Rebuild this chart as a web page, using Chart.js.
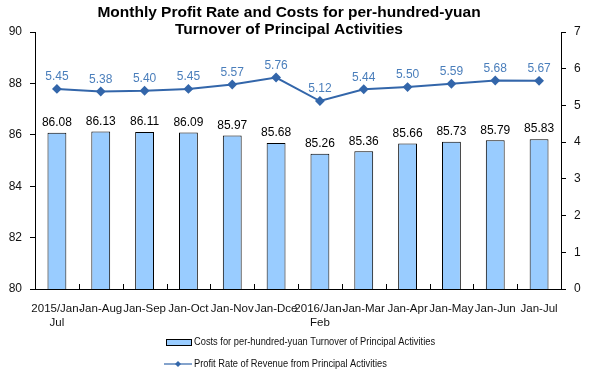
<!DOCTYPE html>
<html>
<head>
<meta charset="utf-8">
<script src="https://cdn.jsdelivr.net/npm/chart.js@4/dist/chart.umd.min.js"></script>
<style>
  html, body { margin: 0; padding: 0; background: #fff; }
  #wrap { width: 589px; height: 379px; position: relative; }
</style>
</head>
<body>
<div id="wrap"><canvas id="chart"></canvas></div>
<script>
// categories (x tick labels, some wrap onto two lines)
const periods = [
  ['2015/Jan-', 'Jul'], 'Jan-Aug', 'Jan-Sep', 'Jan-Oct', 'Jan-Nov', 'Jan-Dce',
  ['2016/Jan-', 'Feb'], 'Jan-Mar', 'Jan-Apr', 'Jan-May', 'Jan-Jun', 'Jan-Jul'
];

// costs per hundred yuan turnover (left axis)
const costs = [86.08, 86.13, 86.11, 86.09, 85.97, 85.68, 85.26, 85.36, 85.66, 85.73, 85.79, 85.83];

// profit rate of revenue (right axis)
const profitRate = [5.45, 5.38, 5.40, 5.45, 5.57, 5.76, 5.12, 5.44, 5.50, 5.59, 5.68, 5.67];

const TITLE_LINES = ['Monthly Profit Rate and Costs for per-hundred-yuan', 'Turnover of Principal Activities'];

const COLORS = {
  bar: '#99ccff',
  barBorder: '#000000',
  line: '#3366aa',
  lineLabel: '#4a7ebb',
  text: '#000000'
};

const FAMILY = '"Liberation Sans", Arial, sans-serif';

// draws title, value labels, inward x ticks and the two-row legend
const decorations = {
  id: 'decorations',
  afterDatasetsDraw(chart) {
    const ctx = chart.ctx;
    const barMeta = chart.getDatasetMeta(1);
    const lineMeta = chart.getDatasetMeta(0);
    ctx.save();

    // title
    ctx.fillStyle = COLORS.text;
    ctx.font = 'bold 15.5px ' + FAMILY;
    ctx.textAlign = 'center';
    ctx.textBaseline = 'middle';
    ctx.fillText(TITLE_LINES[0], 289, 13);
    ctx.fillText(TITLE_LINES[1], 289, 30);

    // x tick marks between categories, pointing up into the plot
    const x = chart.scales.x;
    const bottom = chart.chartArea.bottom;
    const step = x.width / periods.length;
    ctx.strokeStyle = '#000';
    ctx.lineWidth = 1;
    ctx.beginPath();
    for (let i = 0; i <= periods.length; i++) {
      const px = Math.round(x.left + i * step) + 0.5;
      ctx.moveTo(px, bottom);
      ctx.lineTo(px, bottom - 5);
    }
    ctx.stroke();

    // bar labels
    ctx.fillStyle = COLORS.text;
    ctx.font = '12px ' + FAMILY;
    ctx.textBaseline = 'bottom';
    barMeta.data.forEach((bar, i) => {
      ctx.fillText(costs[i].toFixed(2), bar.x, bar.y - 4);
    });

    // line labels
    ctx.fillStyle = COLORS.lineLabel;
    lineMeta.data.forEach((pt, i) => {
      ctx.fillText(profitRate[i].toFixed(2), pt.x, pt.y - 6);
    });

    // legend
    const lx = 166, ly1 = 342, ly2 = 364;
    ctx.fillStyle = COLORS.bar;
    ctx.fillRect(lx, ly1 - 3, 26, 6);
    ctx.strokeStyle = COLORS.barBorder;
    ctx.lineWidth = 1;
    ctx.strokeRect(lx + 0.5, ly1 - 3 + 0.5, 25, 6);

    ctx.strokeStyle = COLORS.line;
    ctx.lineWidth = 1.2;
    ctx.beginPath();
    ctx.moveTo(lx - 2, ly2);
    ctx.lineTo(lx + 26, ly2);
    ctx.stroke();
    ctx.fillStyle = COLORS.line;
    ctx.beginPath();
    ctx.moveTo(lx + 12, ly2 - 3);
    ctx.lineTo(lx + 15, ly2);
    ctx.lineTo(lx + 12, ly2 + 3);
    ctx.lineTo(lx + 9, ly2);
    ctx.closePath();
    ctx.fill();

    ctx.font = '10px ' + FAMILY;
    ctx.textAlign = 'left';
    ctx.textBaseline = 'middle';
    ctx.fillStyle = '#111';
    ctx.translate(194, 0);
    ctx.scale(0.93, 1);
    ctx.fillText(chart.data.datasets[1].label, 0, ly1);
    ctx.fillText(chart.data.datasets[0].label, 0, ly2);

    ctx.restore();
  }
};

const font = { family: FAMILY, size: 12 };

new Chart(document.getElementById('chart'), {
  data: {
    labels: periods,
    datasets: [{
      type: 'line',
      label: 'Profit Rate of Revenue from Principal Activities',
      data: profitRate,
      yAxisID: 'y1',
      borderColor: COLORS.line,
      backgroundColor: COLORS.line,
      borderWidth: 2,
      pointStyle: 'rectRot',
      pointRadius: 3.5,
      tension: 0,
      order: 1
    }, {
      type: 'bar',
      label: 'Costs for per-hundred-yuan Turnover of Principal Activities',
      data: costs,
      yAxisID: 'y',
      backgroundColor: COLORS.bar,
      borderColor: COLORS.barBorder,
      borderWidth: 1,
      barPercentage: 0.43,
      categoryPercentage: 1,
      order: 2
    }]
  },
  options: {
    responsive: true,
    maintainAspectRatio: false,
    animation: false,
    layout: { padding: { top: 32, left: 0, right: 0, bottom: 0 } },
    plugins: {
      legend: { display: false },
      tooltip: { enabled: false }
    },
    scales: {
      x: {
        grid: { display: false, drawTicks: false },
        border: { color: '#000', width: 1 },
        ticks: { color: '#111', font: { family: FAMILY, size: 11.5 }, padding: 13, maxRotation: 0, autoSkip: false },
        afterFit(scale) { scale.height = 90; }
      },
      y: {
        position: 'left',
        min: 80,
        max: 90,
        grid: { drawOnChartArea: false, tickLength: 5, color: '#000' },
        border: { color: '#000', width: 1 },
        ticks: { stepSize: 2, color: '#111', font: font, padding: 8 },
        afterFit(scale) { scale.width = 35; }
      },
      y1: {
        position: 'right',
        min: 0,
        max: 7,
        grid: { drawOnChartArea: false, tickLength: 5, color: '#000' },
        border: { color: '#000', width: 1 },
        ticks: { stepSize: 1, color: '#111', font: font, padding: 8 },
        afterFit(scale) { scale.width = 28; }
      }
    }
  },
  plugins: [decorations]
});
</script>
</body>
</html>
